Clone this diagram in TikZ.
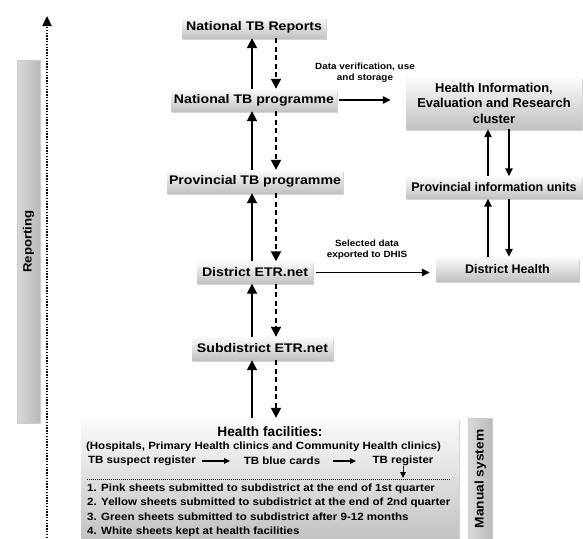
\documentclass[tikz,border=0pt]{standalone}
\usepackage{fontspec}
\setmainfont{Liberation Sans}
\newfontfamily\wf[FakeStretch=1.1]{Liberation Sans}
\newfontfamily\lf[FakeStretch=1.13]{Liberation Sans}
\usetikzlibrary{arrows.meta,shadows}
\begin{document}
\begin{tikzpicture}[x=1pt,y=-1pt,
  box/.style={top color=gray!3, bottom color=gray!48, drop shadow={shadow xshift=1pt,shadow yshift=-1.5pt,opacity=0.35},
    font=\lf\bfseries\fontsize{12.5}{14.5}\selectfont, inner sep=0pt, align=center},
  rbox/.style={box, font=\bfseries\fontsize{12.5}{15.5}\selectfont},
  bar/.style={left color=gray!30, middle color=gray!5, right color=gray!55, draw=gray!40, line width=0.4pt},
  up/.style={line width=1.8pt, -{Triangle[length=10pt,width=10pt]}},
  dn/.style={line width=1.8pt, dash pattern=on 5pt off 3.5pt, -{Triangle[length=10pt,width=10pt]}},
  thinar/.style={line width=1.3pt, -{Triangle[length=8pt,width=7.5pt]}},
  smallar/.style={line width=1pt, -{Triangle[length=6pt,width=5.5pt]}},
  lab/.style={font=\wf\bfseries\fontsize{9}{11}\selectfont, align=center, inner sep=0pt},
  ften/.style={font=\wf\bfseries\fontsize{10.5}{12}\selectfont, inner sep=0pt},
  lst/.style={font=\wf\bfseries\fontsize{10.5}{12}\selectfont, inner sep=0pt, anchor=west},
  rot/.style={rotate=90, font=\wf\bfseries\fontsize{12.5}{14}\selectfont}]
\useasboundingbox (0,0) rectangle (583,538);

% left reporting bar and dotted arrow
\node[bar, minimum width=23pt, minimum height=363pt] (repbar) at (28.5,241.5) {};
\node[rot, font=\wf\bfseries\fontsize{12}{14}\selectfont] (reptext) at (28.5,241.5) {Reporting};
\coordinate (dotbot) at (47,538);
\coordinate (dottop) at (47,16);
\draw[line width=2.3pt, dash pattern=on 1.4pt off 1.4pt, -{Triangle[length=10pt,width=9pt]}] (dotbot) -- (dottop);

% main chain
\node[box, minimum width=144pt, minimum height=21pt] (rep) at (254,27.5) {National TB Reports};
\node[box, minimum width=166pt, minimum height=22pt] (ntp) at (254,100) {National TB programme};
\node[box, minimum width=176pt, minimum height=23pt] (ptp) at (255,181.5) {Provincial TB programme};
\node[box, minimum width=116pt, minimum height=22pt] (detr) at (255,272.5) {District ETR.net};
\node[box, minimum width=141pt, minimum height=23pt] (setr) at (262.5,348.5) {Subdistrict ETR.net};

% right side
\node[rbox, minimum width=176pt, minimum height=52pt, font=\bfseries\fontsize{12.9}{15.5}\selectfont] (hier) at (494,103) {Health Information,\\Evaluation and Research\\cluster};
\node[rbox, minimum width=176pt, minimum height=22pt] (piu) at (494,187.5) {Provincial information units};
\node[rbox, minimum width=143pt, minimum height=24pt] (dh) at (507.5,269) {District Health};

% health facilities box
\node[box, minimum width=378pt, minimum height=122pt] (hf) at (270,479) {};
\node[bar, minimum width=24pt, minimum height=122pt] (manbar) at (480.5,479) {};
\node[rot] (mantext) at (480.5,479) {Manual system};

\node[font=\bfseries\fontsize{13.7}{15}\selectfont, inner sep=0pt] (hft) at (270,432) {Health facilities:};
\node[ften] (hosp) at (263.5,447) {(Hospitals, Primary Health clinics and Community Health clinics)};
\node[ften] (tbs) at (142,461) {TB suspect register};
\node[ften] (tbb) at (282,461) {TB blue cards};
\node[ften] (tbr) at (403,461) {TB register};
\coordinate (a1s) at (202,461); \coordinate (a1e) at (230,461);
\coordinate (a2s) at (333,461); \coordinate (a2e) at (356,461);
\draw[smallar, line width=1.2pt] (a1s) -- (a1e);
\draw[smallar, line width=1.2pt] (a2s) -- (a2e);
\coordinate (rgs) at (403,466); \coordinate (rge) at (403,478);
\draw[smallar] (rgs) -- (rge);
\coordinate (dl1) at (87,479); \coordinate (dl2) at (451,479);
\draw[line width=1pt, dash pattern=on 1pt off 1pt] (dl1) -- (dl2);
\node[lst] (l1) at (87,488.5) {\makebox[14pt][l]{1.}Pink sheets submitted to subdistrict at the end of 1st quarter};
\node[lst] (l2) at (87,503) {\makebox[14pt][l]{2.}Yellow sheets submitted to subdistrict at the end of 2nd quarter};
\node[lst] (l3) at (87,517) {\makebox[14pt][l]{3.}Green sheets submitted to subdistrict after 9-12 months};
\node[lst] (l4) at (87,531.5) {\makebox[14pt][l]{4.}White sheets kept at health facilities};

% vertical arrows in the chain
\coordinate (ux) at (252,0);
\coordinate (dx) at (276,0);
\draw[up] (ntp.north -| ux) -- (rep.south -| ux);
\draw[dn] (rep.south -| dx) -- (ntp.north -| dx);
\draw[up] (ptp.north -| ux) -- (ntp.south -| ux);
\draw[dn] (ntp.south -| dx) -- (ptp.north -| dx);
\draw[up] (detr.north -| ux) -- (ptp.south -| ux);
\draw[dn] (ptp.south -| dx) -- (detr.north -| dx);
\draw[up] (setr.north -| ux) -- (detr.south -| ux);
\draw[dn] (detr.south -| dx) -- (setr.north -| dx);
\draw[up] (hf.north -| ux) -- (setr.south -| ux);
\draw[dn] (setr.south -| dx) -- (hf.north -| dx);

% right vertical arrows
\coordinate (rux) at (488,0);
\coordinate (rdx) at (509,0);
\draw[thinar] (piu.north -| rux) -- (hier.south -| rux);
\draw[thinar] (hier.south -| rdx) -- (piu.north -| rdx);
\draw[thinar] (dh.north -| rux) -- (piu.south -| rux);
\draw[thinar] (piu.south -| rdx) -- (dh.north -| rdx);

% horizontal arrows
\draw[thinar, shorten <=2pt, shorten >=15pt] (ntp.east) -- (hier.west |- ntp.east);
\node[lab] (lab1) at (365,73) {Data verification, use\\and storage};
\draw[thinar, shorten <=3pt, shorten >=6pt] (detr.east) -- (dh.west |- detr.east);
\node[lab] (lab2) at (367,250) {Selected data\\exported to DHIS};
\end{tikzpicture}
\end{document}
